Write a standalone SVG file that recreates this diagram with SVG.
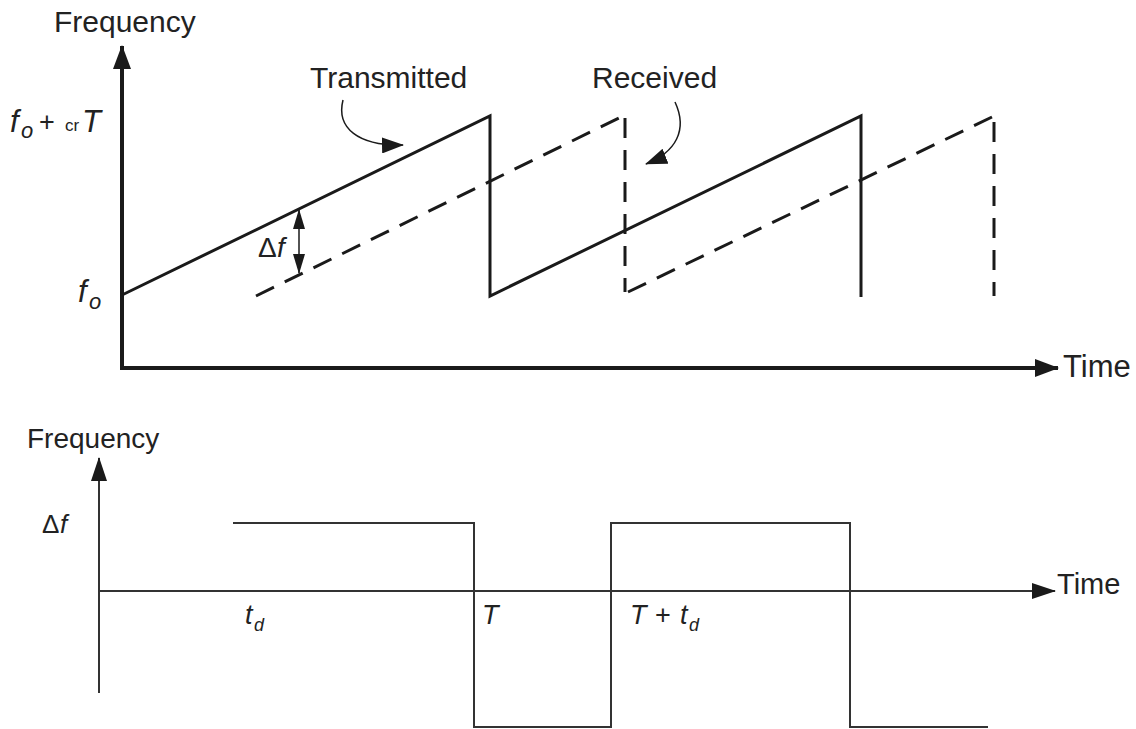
<svg xmlns="http://www.w3.org/2000/svg" width="1136" height="729" viewBox="0 0 1136 729">
<style>
.lbl{font-family:"Liberation Sans",Arial,sans-serif;fill:#222}
.it{font-family:"Liberation Sans",Arial,sans-serif;font-style:italic;fill:#222}
.ax{stroke:#1a1a1a;stroke-width:4;fill:none}
.sig{stroke:#1a1a1a;stroke-width:3;fill:none}
.dash{stroke:#1a1a1a;stroke-width:3;fill:none;stroke-dasharray:20,12}
.thin{stroke:#333;stroke-width:2;fill:none}
.lead{stroke:#1a1a1a;stroke-width:1.5;fill:none}
</style>
<defs>
<marker id="axArrow" viewBox="0 0 24 20" refX="23" refY="10" markerWidth="24" markerHeight="20" orient="auto" markerUnits="userSpaceOnUse">
<path d="M0,1 L24,10 L0,19 Z" fill="#1a1a1a"/>
</marker>
<marker id="smArrow" viewBox="0 0 24 18" refX="23" refY="9" markerWidth="24" markerHeight="18" orient="auto" markerUnits="userSpaceOnUse">
<path d="M0,1 L24,9 L0,17 Z" fill="#1a1a1a"/>
</marker>
<marker id="dfArrow" viewBox="0 0 20 12" refX="19" refY="6" markerWidth="20" markerHeight="12" orient="auto" markerUnits="userSpaceOnUse">
<path d="M0,0 L20,6 L0,12 Z" fill="#1a1a1a"/>
</marker>
<marker id="curveArrow" viewBox="0 0 22 16" refX="21" refY="8" markerWidth="22" markerHeight="16" orient="auto" markerUnits="userSpaceOnUse">
<path d="M0,0 L22,8 L0,16 Z" fill="#1a1a1a"/>
</marker>
</defs>
<rect width="1136" height="729" fill="#ffffff"/>

<g id="top-axes">
<line class="ax" x1="122" y1="369" x2="122" y2="46" marker-end="url(#axArrow)"/>
<line class="ax" x1="120" y1="368" x2="1058" y2="368" marker-end="url(#axArrow)"/>
<text class="lbl" x="54" y="32" font-size="30">Frequency</text>
<text class="lbl" x="1063" y="377" font-size="31">Time</text>
<text class="it" x="10" y="132" font-size="31">f</text>
<text class="it" x="21" y="138" font-size="22">o</text>
<text class="lbl" x="39" y="131" font-size="27">+</text>
<text class="lbl" x="65" y="131" font-size="17">cr</text>
<text class="it" x="82" y="132" font-size="31">T</text>
<text class="it" x="78" y="302" font-size="31">f</text>
<text class="it" x="89" y="309" font-size="22">o</text>
</g>

<g id="transmitted">
<path class="sig" d="M122,295 L490,116 L490,296 L861,116 L861,297"/>
<text class="lbl" x="310" y="88" font-size="30">Transmitted</text>
<path class="lead" d="M343,100 C336,128 358,146 403,145" marker-end="url(#curveArrow)"/>
</g>

<g id="received">
<path class="dash" d="M256,296 L619,118"/>
<path class="dash" d="M625,118 L625,292"/>
<path class="dash" d="M628,292 L992,117"/>
<path class="dash" d="M994,122 L994,296"/>
<text class="lbl" x="592" y="88" font-size="30">Received</text>
<path class="lead" d="M675,102 C688,130 676,152 646,164" marker-end="url(#curveArrow)"/>
</g>

<g id="delta-f">
<line class="lead" x1="299" y1="240" x2="299" y2="210" marker-end="url(#dfArrow)"/>
<line class="lead" x1="299" y1="240" x2="299" y2="273" marker-end="url(#dfArrow)"/>
<text class="lbl" x="258" y="257" font-size="28">Δ</text>
<text class="it" x="277" y="257" font-size="28">f</text>
</g>

<g id="bottom-axes">
<line class="thin" x1="99" y1="693" x2="99" y2="458" marker-end="url(#smArrow)"/>
<line class="thin" x1="99" y1="591" x2="1055" y2="591" marker-end="url(#smArrow)"/>
<text class="lbl" x="27" y="448" font-size="28">Frequency</text>
<text class="lbl" x="1057" y="594" font-size="29">Time</text>
<text class="lbl" x="42" y="533" font-size="26">Δ</text>
<text class="it" x="60" y="533" font-size="26">f</text>
</g>

<g id="beat-signal">
<path class="thin" d="M233,523 L474,523 L474,727 L611,727 L611,523 L850,523 L850,727 L988,727"/>
<text class="it" x="245" y="624" font-size="27">t</text>
<text class="it" x="254" y="631" font-size="18">d</text>
<text class="it" x="482" y="624" font-size="27">T</text>
<text class="it" x="630" y="624" font-size="27">T</text>
<text class="lbl" x="655" y="624" font-size="27">+</text>
<text class="it" x="680" y="624" font-size="27">t</text>
<text class="it" x="689" y="631" font-size="18">d</text>
</g>
</svg>
